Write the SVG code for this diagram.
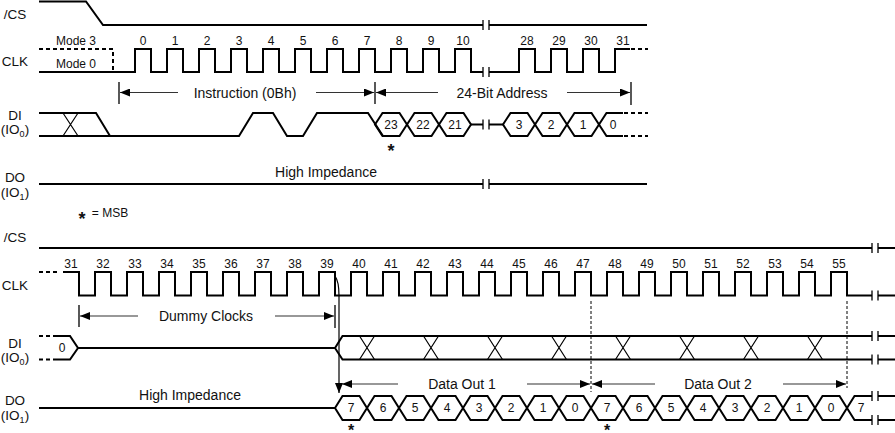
<svg xmlns="http://www.w3.org/2000/svg" width="895" height="433" viewBox="0 0 895 433">
<defs>
<style>
.sig{fill:none;stroke:#000;stroke-width:2}
.dsh{fill:none;stroke:#000;stroke-width:2;stroke-dasharray:4 3}
.thin{fill:none;stroke:#000;stroke-width:1.2}
.tick{fill:none;stroke:#000;stroke-width:1.3}
.arr{fill:none;stroke:#333;stroke-width:1.2;marker-end:url(#ah)}
.vd{fill:none;stroke:#000;stroke-width:1;stroke-dasharray:3 2}
text{font-family:"Liberation Sans",Arial,sans-serif;fill:#111}
.lbl{font-size:13.5px;text-anchor:middle}
.num{font-size:12px;text-anchor:middle}
.hx{font-size:12px;text-anchor:middle}
.cap{font-size:14px;text-anchor:middle}
.star{font-size:18px;font-weight:bold;text-anchor:middle}
.starb{font-size:16px;font-weight:bold;text-anchor:middle}
</style>
<marker id="ah" markerUnits="userSpaceOnUse" markerWidth="10" markerHeight="8" refX="10" refY="4" orient="auto">
<path d="M0,0 L10,4 L0,8 Z" fill="#000"/>
</marker>
</defs>

<g id="labels">
<text class="lbl" x="15" y="18.5">/CS</text>
<text class="lbl" x="15" y="65.5">CLK</text>
<text class="lbl" x="15" y="120">DI</text>
<text class="lbl" x="15" y="134">(IO<tspan font-size="9" dy="3">0</tspan><tspan dy="-3">)</tspan></text>
<text class="lbl" x="15" y="182">DO</text>
<text class="lbl" x="15" y="197">(IO<tspan font-size="9" dy="3">1</tspan><tspan dy="-3">)</tspan></text>
<text class="lbl" x="15" y="242">/CS</text>
<text class="lbl" x="15" y="290">CLK</text>
<text class="lbl" x="15" y="348">DI</text>
<text class="lbl" x="15" y="362">(IO<tspan font-size="9" dy="3">0</tspan><tspan dy="-3">)</tspan></text>
<text class="lbl" x="15" y="405">DO</text>
<text class="lbl" x="15" y="420">(IO<tspan font-size="9" dy="3">1</tspan><tspan dy="-3">)</tspan></text>
</g>

<g id="cs-top">
<path class="sig" d="M39,1.5 H86 L103,25 H483"/>
<path class="sig" d="M489,25 H647"/>
<path class="tick" d="M483,20 V30 M489,20 V30"/>
</g>

<g id="clk-top">
<path class="dsh" d="M39,49 H113 V72"/>
<path class="sig" d="M39,72 H135 V49 H151 V72 H167 V49 H183 V72 H199 V49 H215 V72 H231 V49 H247 V72 H263 V49 H279 V72 H295 V49 H311 V72 H327 V49 H343 V72 H359 V49 H375 V72 H391 V49 H407 V72 H423 V49 H439 V72 H455 V49 H471 V72 H483"/>
<path class="sig" d="M489,72 H519 V49 H535 V72 H551 V49 H567 V72 H583 V49 H599 V72 H615 V49 H630"/>
<path class="dsh" d="M631,49 H648"/>
<path class="tick" d="M483,67 V77 M489,67 V77"/>
<text class="num" x="76" y="45">Mode 3</text>
<text class="num" x="76" y="68">Mode 0</text>
<text class="num" x="143" y="45">0</text>
<text class="num" x="175" y="45">1</text>
<text class="num" x="207" y="45">2</text>
<text class="num" x="239" y="45">3</text>
<text class="num" x="271" y="45">4</text>
<text class="num" x="303" y="45">5</text>
<text class="num" x="335" y="45">6</text>
<text class="num" x="367" y="45">7</text>
<text class="num" x="399" y="45">8</text>
<text class="num" x="431" y="45">9</text>
<text class="num" x="463" y="45">10</text>
<text class="num" x="527" y="45">28</text>
<text class="num" x="559" y="45">29</text>
<text class="num" x="591" y="45">30</text>
<text class="num" x="623" y="45">31</text>
</g>

<g id="di-top">
<path class="sig" d="M39,113 H96 L110,136"/>
<path class="sig" d="M39,136 H239 L253,113 H273 L287,136 H303 L317,113 H368 L383,136"/>
<path class="thin" d="M63,113 L78,136 M63,136 L78,113"/>
<path class="sig" d="M375,124.5 L382.5,113 H399.5 L407,124.5 L399.5,136 H382.5 Z"/>
<path class="sig" d="M407,124.5 L414.5,113 H431.5 L439,124.5 L431.5,136 H414.5 Z"/>
<path class="sig" d="M439,124.5 L446.5,113 H463.5 L471,124.5 L463.5,136 H446.5 Z"/>
<path class="sig" d="M471,124.5 H483 M489,124.5 H503"/>
<path class="tick" d="M483,119.5 V129.5 M489,119.5 V129.5"/>
<path class="sig" d="M503,124.5 L510.5,113 H527.5 L535,124.5 L527.5,136 H510.5 Z"/>
<path class="sig" d="M535,124.5 L542.5,113 H559.5 L567,124.5 L559.5,136 H542.5 Z"/>
<path class="sig" d="M567,124.5 L574.5,113 H591.5 L599,124.5 L591.5,136 H574.5 Z"/>
<path class="sig" d="M623,113 H606.5 L599,124.5 L606.5,136 H623"/>
<path class="dsh" d="M624,113 H648 M624,136 H648"/>
<text class="hx" x="391" y="129">23</text>
<text class="hx" x="423" y="129">22</text>
<text class="hx" x="455" y="129">21</text>
<text class="hx" x="519" y="129">3</text>
<text class="hx" x="551" y="129">2</text>
<text class="hx" x="583" y="129">1</text>
<text class="hx" x="613" y="129">0</text>
<text class="star" x="391" y="157">*</text>
</g>

<g id="do-top">
<path class="sig" d="M39,184 H483 M489,184 H647"/>
<path class="tick" d="M483,179 V189 M489,179 V189"/>
<text class="cap" x="326" y="177">High Impedance</text>
</g>

<g id="legend">
<text class="star" x="82" y="225">*</text>
<text class="num" x="110" y="217">= MSB</text>
</g>

<g id="cs-bottom">
<path class="sig" d="M39,248 H872 M878,248 H895"/>
<path class="tick" d="M872,243 V253 M878,243 V253"/>
</g>

<g id="clk-bottom">
<path class="dsh" d="M39,272 H60"/>
<path class="sig" d="M63,272 H79 V295.5 H95 V272 H111 V295.5 H127 V272 H143 V295.5 H159 V272 H175 V295.5 H191 V272 H207 V295.5 H223 V272 H239 V295.5 H255 V272 H271 V295.5 H287 V272 H303 V295.5 H319 V272 H335 V295.5 H351 V272 H367 V295.5 H383 V272 H399 V295.5 H415 V272 H431 V295.5 H447 V272 H463 V295.5 H479 V272 H495 V295.5 H511 V272 H527 V295.5 H543 V272 H559 V295.5 H575 V272 H591 V295.5 H607 V272 H623 V295.5 H639 V272 H655 V295.5 H671 V272 H687 V295.5 H703 V272 H719 V295.5 H735 V272 H751 V295.5 H767 V272 H783 V295.5 H799 V272 H815 V295.5 H831 V272 H847 V295.5 H872 M878,295.5 H895"/>
<path class="tick" d="M872,290.5 V300.5 M878,290.5 V300.5"/>
<text class="num" x="71" y="268">31</text>
<text class="num" x="103" y="268">32</text>
<text class="num" x="135" y="268">33</text>
<text class="num" x="167" y="268">34</text>
<text class="num" x="199" y="268">35</text>
<text class="num" x="231" y="268">36</text>
<text class="num" x="263" y="268">37</text>
<text class="num" x="295" y="268">38</text>
<text class="num" x="327" y="268">39</text>
<text class="num" x="359" y="268">40</text>
<text class="num" x="391" y="268">41</text>
<text class="num" x="423" y="268">42</text>
<text class="num" x="455" y="268">43</text>
<text class="num" x="487" y="268">44</text>
<text class="num" x="519" y="268">45</text>
<text class="num" x="551" y="268">46</text>
<text class="num" x="583" y="268">47</text>
<text class="num" x="615" y="268">48</text>
<text class="num" x="647" y="268">49</text>
<text class="num" x="679" y="268">50</text>
<text class="num" x="711" y="268">51</text>
<text class="num" x="743" y="268">52</text>
<text class="num" x="775" y="268">53</text>
<text class="num" x="807" y="268">54</text>
<text class="num" x="839" y="268">55</text>
</g>

<g id="di-bottom">
<path class="dsh" d="M39,336 H55 M39,359.5 H55"/>
<path class="sig" d="M55,336 H70 L78,348 L70,359.5 H55"/>
<path class="sig" d="M78,348 H335 L342.5,336 H872 M335,348 L342.5,359.5 H872 M878,336 H895 M878,359.5 H895"/>
<path class="tick" d="M872,331 V341 M878,331 V341 M872,354.5 V364.5 M878,354.5 V364.5"/>
<path class="thin" d="M359.5,336 L374.5,359.5 M359.5,359.5 L374.5,336 M423.5,336 L438.5,359.5 M423.5,359.5 L438.5,336 M487.5,336 L502.5,359.5 M487.5,359.5 L502.5,336 M551.5,336 L566.5,359.5 M551.5,359.5 L566.5,336 M615.5,336 L630.5,359.5 M615.5,359.5 L630.5,336 M679.5,336 L694.5,359.5 M679.5,359.5 L694.5,336 M743.5,336 L758.5,359.5 M743.5,359.5 L758.5,336 M807.5,336 L822.5,359.5 M807.5,359.5 L822.5,336"/>
<text class="hx" x="62" y="352" font-size="11">0</text>
</g>

<g id="do-bottom">
<path class="sig" d="M39,408 H335"/>
<path class="sig" d="M335,408 L342.5,396 H359.5 L367,408 L359.5,420 H342.5 Z"/>
<path class="sig" d="M367,408 L374.5,396 H391.5 L399,408 L391.5,420 H374.5 Z"/>
<path class="sig" d="M399,408 L406.5,396 H423.5 L431,408 L423.5,420 H406.5 Z"/>
<path class="sig" d="M431,408 L438.5,396 H455.5 L463,408 L455.5,420 H438.5 Z"/>
<path class="sig" d="M463,408 L470.5,396 H487.5 L495,408 L487.5,420 H470.5 Z"/>
<path class="sig" d="M495,408 L502.5,396 H519.5 L527,408 L519.5,420 H502.5 Z"/>
<path class="sig" d="M527,408 L534.5,396 H551.5 L559,408 L551.5,420 H534.5 Z"/>
<path class="sig" d="M559,408 L566.5,396 H583.5 L591,408 L583.5,420 H566.5 Z"/>
<path class="sig" d="M591,408 L598.5,396 H615.5 L623,408 L615.5,420 H598.5 Z"/>
<path class="sig" d="M623,408 L630.5,396 H647.5 L655,408 L647.5,420 H630.5 Z"/>
<path class="sig" d="M655,408 L662.5,396 H679.5 L687,408 L679.5,420 H662.5 Z"/>
<path class="sig" d="M687,408 L694.5,396 H711.5 L719,408 L711.5,420 H694.5 Z"/>
<path class="sig" d="M719,408 L726.5,396 H743.5 L751,408 L743.5,420 H726.5 Z"/>
<path class="sig" d="M751,408 L758.5,396 H775.5 L783,408 L775.5,420 H758.5 Z"/>
<path class="sig" d="M783,408 L790.5,396 H807.5 L815,408 L807.5,420 H790.5 Z"/>
<path class="sig" d="M815,408 L822.5,396 H839.5 L847,408 L839.5,420 H822.5 Z"/>
<path class="sig" d="M872,396 H854.5 L847,408 L854.5,420 H872 M878,396 H895 M878,420 H895"/>
<path class="tick" d="M872,391 V401 M878,391 V401 M872,415 V425 M878,415 V425"/>
<text class="hx" x="351" y="412">7</text>
<text class="hx" x="383" y="412">6</text>
<text class="hx" x="415" y="412">5</text>
<text class="hx" x="447" y="412">4</text>
<text class="hx" x="479" y="412">3</text>
<text class="hx" x="511" y="412">2</text>
<text class="hx" x="543" y="412">1</text>
<text class="hx" x="575" y="412">0</text>
<text class="hx" x="607" y="412">7</text>
<text class="hx" x="639" y="412">6</text>
<text class="hx" x="671" y="412">5</text>
<text class="hx" x="703" y="412">4</text>
<text class="hx" x="735" y="412">3</text>
<text class="hx" x="767" y="412">2</text>
<text class="hx" x="799" y="412">1</text>
<text class="hx" x="831" y="412">0</text>
<text class="hx" x="861" y="412">7</text>
<text class="cap" x="190" y="400">High Impedance</text>
<text class="starb" x="351" y="436">*</text>
<text class="starb" x="607" y="436">*</text>
</g>

<g id="connectors">
<path class="tick" d="M119,82 V104 M375,82 V104 M631,82 V105"/>
<path class="arr" d="M178,92.5 H120"/>
<path class="arr" d="M316,92.5 H374"/>
<path class="arr" d="M438,92.5 H376"/>
<path class="arr" d="M567,92.5 H630"/>
<text class="cap" x="245" y="97.5">Instruction (0Bh)</text>
<text class="cap" x="502" y="97.5">24-Bit Address</text>

<path class="tick" d="M79,305 V327 M335,305 V328"/>
<path class="arr" d="M138,316 H80"/>
<path class="arr" d="M275,316 H334"/>
<text class="cap" x="206" y="321">Dummy Clocks</text>

<path class="arr" d="M335,276 C338,280 339,286 339,296 V393" style="stroke:#000"/>
<path class="vd" d="M591,301 V392 M847,301 V388"/>
<path class="arr" d="M398,384 H342"/>
<path class="arr" d="M527,384 H590"/>
<path class="arr" d="M655,384 H592"/>
<path class="arr" d="M783,384 H846"/>
<text class="cap" x="462" y="389">Data Out 1</text>
<text class="cap" x="718" y="389">Data Out 2</text>
</g>
</svg>
